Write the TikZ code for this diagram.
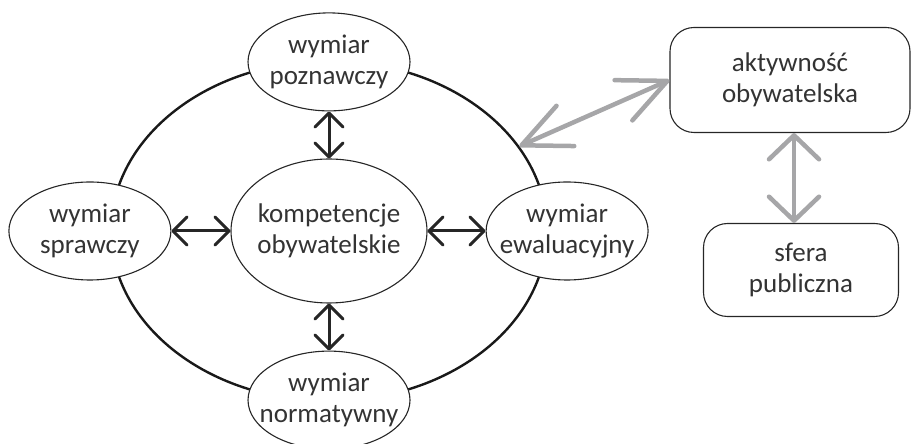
\documentclass[tikz,border=0pt]{standalone}
\usepackage{fontspec}
\setmainfont{Carlito}
\usetikzlibrary{positioning,shapes.geometric,arrows.meta}
\definecolor{arrgrey}{RGB}{166,166,168}
\definecolor{txtgrey}{RGB}{51,51,51}

\begin{document}
\begin{tikzpicture}[x=1pt,y=1pt,
    every node/.style={font=\fontsize{27}{31}\selectfont, text=txtgrey, align=center},
    dimnode/.style={ellipse, draw=black!85, fill=white, line width=1.1pt,
        inner xsep=-20pt, inner ysep=-10pt, minimum width=162pt, minimum height=98pt},
    roundbox/.style={rectangle, rounded corners=24pt, draw=black!85, line width=1.1pt},
    barr/.style={draw=black!85, line width=3pt, >={Straight Barb[length=14pt,width=28pt,round]}, <->},
    garr/.style={draw=arrgrey, line width=4.5pt, <->}]
    \useasboundingbox (0,0) rectangle (911,444);

    % srodek
    \node (komp) [ellipse, draw=black!85, line width=1.1pt, inner xsep=-20pt, inner ysep=-10pt,
        minimum width=196pt, minimum height=144pt] at (329,213) {kompetencje\\obywatelskie};
    \node (ring) [ellipse, draw=black!90, line width=2.4pt, inner sep=0pt,
        minimum width=436pt, minimum height=340pt] at (komp.center) {};

    % prawa strona
    \node (akt) [roundbox, minimum width=240pt, minimum height=105pt] at (790,364) {aktywność\\obywatelska};
    \node (sfera) [roundbox, minimum width=195pt, minimum height=93pt] at (801,174) {sfera\\publiczna};

    \draw [garr, >={Straight Barb[length=48pt,width=44pt,round]}] (akt.west) -- (ring.24);
    \draw [garr, >={Straight Barb[length=24pt,width=50pt,round]}]
        ([xshift=4pt]akt.south) -- ([xshift=4pt]akt.south |- sfera.north);

    % wymiary
    \node (pozn) [dimnode, above=47pt of komp] {wymiar\\poznawczy};
    \node (spraw) [dimnode, left=59pt of komp] {wymiar\\sprawczy};
    \node (ewal) [dimnode, right=58pt of komp] {wymiar\\ewaluacyjny};
    \node (norm) [dimnode, below=47pt of komp] {wymiar\\normatywny};

    \draw [barr] (pozn.south) -- (komp.north);
    \draw [barr] (spraw.east) -- (komp.west);
    \draw [barr] (komp.east) -- (ewal.west);
    \draw [barr] (komp.south) -- (norm.north);
\end{tikzpicture}
\end{document}
